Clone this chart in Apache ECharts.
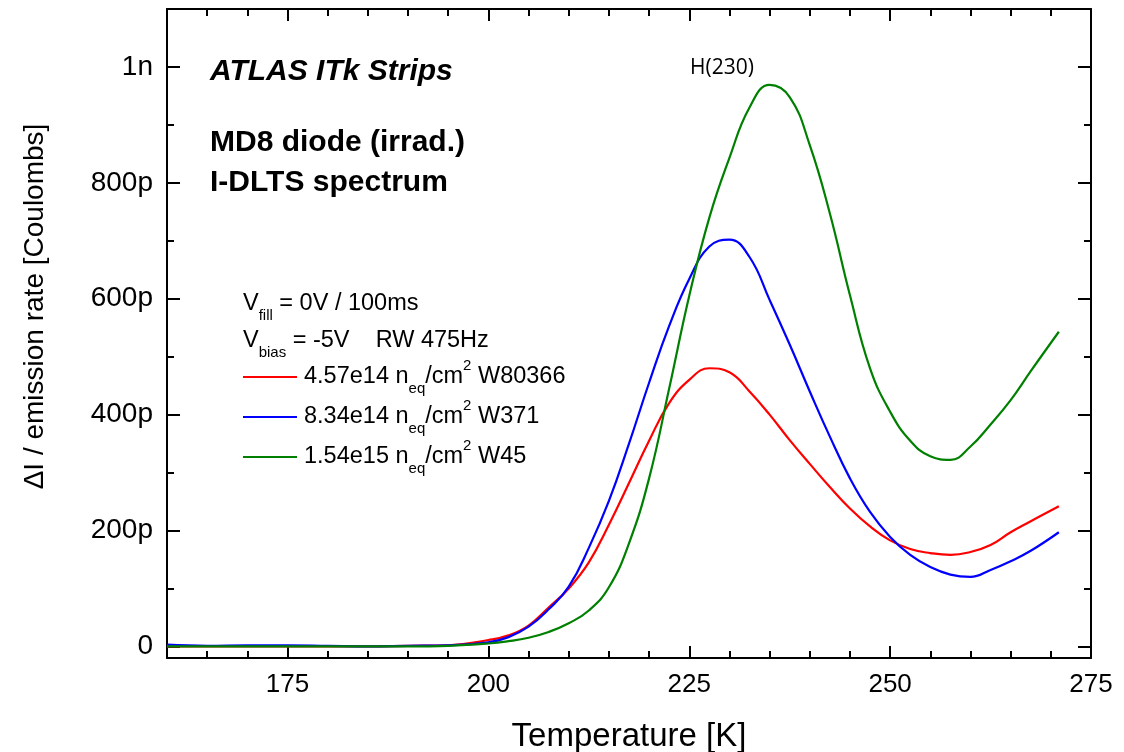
<!DOCTYPE html>
<html>
<head>
<meta charset="utf-8">
<script src="https://cdn.jsdelivr.net/npm/echarts@6/dist/echarts.min.js"></script>
<style>html,body{margin:0;padding:0;background:#fff;}#c{width:1124px;height:752px;}</style>
</head>
<body>
<div id="c"></div>
<script>
// Temperature grid [K]
const temps = [160,165,170,175,180,185,190,195,200,202.5,205,207.5,210,212.5,215,217.5,220,222.5,225,227.5,230,232.5,235,237.5,240,242.5,245,247.5,250,252.5,255,257.5,260,262.5,265,267.5,271];
// ΔI / emission rate [pC]
const redW80366 = [0,0,0,0,0,0,1,2,11,19,36,67,100,145,210,282,355,420,460,480,473,440,400,356,315,275,238,207,183,168,161,158,163,175,197,216,242];
const blueW371  = [3,1,2,2,1,0,1,2,7,16,34,64,103,170,251,350,455,553,634,690,702,672,598,521,440,362,290,232,189,158,137,124,120,132,147,165,197];
const greenW45  = [0,0,0,0,0,0,0,1,5,9,15,25,40,62,102,178,290,445,605,740,843,930,969,948,865,747,606,480,405,355,328,322,345,383,425,475,543];

const xMajor = [175,200,225,250,275];
const xMinor = [165,170,180,185,190,195,205,210,215,220,230,235,240,245,255,260,265,270];
const yMajor = [0,200,400,600,800,1000];
const yMinor = [100,300,500,700,900];

const seriesNames = [
  '{a|4.57e14 n}{sub|eq}{a|/cm}{sup|2}{a| W80366}',
  '{a|8.34e14 n}{sub|eq}{a|/cm}{sup|2}{a| W371}',
  '{a|1.54e15 n}{sub|eq}{a|/cm}{sup|2}{a| W45}'
];
const seriesKeys = ['W80366','W371','W45'];
const seriesColors = ['#ff0000','#0000ff','#008000'];
const seriesData = [redW80366, blueW371, greenW45];

const FONT = '"Liberation Sans", Arial, sans-serif';
const richStyles = {
  a:   {fontSize: 23.5, fontFamily: FONT, color: '#000', lineHeight: 38, verticalAlign: 'middle'},
  sub: {fontSize: 15, fontFamily: FONT, color: '#000', lineHeight: 15, verticalAlign: 'bottom'},
  sup: {fontSize: 15, fontFamily: FONT, color: '#000', lineHeight: 30, verticalAlign: 'top'}
};

function yFmt(v){ if (v === 1000) return '1n'; if (v === 0) return '0'; return v + 'p'; }

const XMIN = 160, XMAX = 275, YMIN = -20, YMAX = 1100;
const black = '#000';

function xAx(pos, values, len, main){
  return {
    type: 'value', min: XMIN, max: XMAX, position: pos, gridIndex: 0,
    axisLine: {show: main, onZero: false, lineStyle: {color: black, width: 2}},
    axisTick: {show: true, inside: true, length: len, customValues: values, lineStyle: {color: black, width: 2}},
    axisLabel: (main && pos === 'bottom') ? {show: true, customValues: xMajor, fontSize: 26, fontFamily: FONT, color: black, margin: 14} : {show: false},
    splitLine: {show: false},
    name: (main && pos === 'bottom') ? 'Temperature [K]' : '',
    nameLocation: 'middle', nameGap: 62,
    nameTextStyle: {fontSize: 33, fontFamily: FONT, color: black}
  };
}
function yAx(pos, values, len, main){
  return {
    type: 'value', min: YMIN, max: YMAX, position: pos, gridIndex: 0,
    axisLine: {show: main, onZero: false, lineStyle: {color: black, width: 2}},
    axisTick: {show: true, inside: true, length: len, customValues: values, lineStyle: {color: black, width: 2}},
    axisLabel: (main && pos === 'left') ? {show: true, customValues: yMajor, formatter: yFmt, fontSize: 28, fontFamily: FONT, color: black, margin: 14} : {show: false},
    splitLine: {show: false},
    name: (main && pos === 'left') ? 'ΔI / emission rate [Coulombs]' : '',
    nameLocation: 'middle', nameGap: 118,
    nameTextStyle: {fontSize: 28, fontFamily: FONT, color: black, padding: [0, 0, 0, 54]}
  };
}

const option = {
  backgroundColor: '#fff',
  animation: false,
  grid: {left: 167, right: 33, top: 9, bottom: 94, containLabel: false, outerBoundsMode: 'none'},
  xAxis: [
    xAx('bottom', xMajor, 12, true),
    xAx('bottom', xMinor, 7, false),
    xAx('top', xMajor, 12, true),
    xAx('top', xMinor, 7, false)
  ],
  yAxis: [
    yAx('left', yMajor, 13, true),
    yAx('left', yMinor, 7, false),
    yAx('right', yMajor, 13, true),
    yAx('right', yMinor, 7, false)
  ],
  legend: {
    orient: 'vertical', left: 243, top: 358, padding: 0, itemGap: 2,
    itemWidth: 54, itemHeight: 2, icon: 'rect',
    data: seriesKeys,
    formatter: function(name){ return seriesNames[seriesKeys.indexOf(name)]; },
    textStyle: {rich: richStyles, padding: [0,0,0,2]}
  },
  series: seriesKeys.map(function(k, i){
    return {
      name: k, type: 'line', xAxisIndex: 0, yAxisIndex: 0,
      data: temps.map(function(t, j){ return [t, seriesData[i][j]]; }),
      smooth: 0.45, showSymbol: false, symbol: 'none',
      color: seriesColors[i],
      lineStyle: {color: seriesColors[i], width: 2.2}
    };
  }),
  graphic: [
    {type: 'text', left: 210, top: 57, style: {text: 'ATLAS ITk Strips', font: 'italic bold 30px ' + FONT, fill: black}},
    {type: 'text', left: 210, top: 128, style: {text: 'MD8 diode (irrad.)', font: 'bold 30px ' + FONT, fill: black}},
    {type: 'text', left: 210, top: 168, style: {text: 'I-DLTS spectrum', font: 'bold 30px ' + FONT, fill: black}},
    {type: 'text', left: 690, top: 58, style: {text: 'H(230)', font: '21px "Open Sans", "Noto Sans", sans-serif', fill: black}},
    {type: 'text', left: 243, top: 292, style: {text: '{a|V}{sub|fill}{a| = 0V / 100ms}', rich: richStyles}},
    {type: 'text', left: 243, top: 329, style: {text: '{a|V}{sub|bias}{a| = -5V    RW 475Hz}', rich: richStyles}}
  ]
};

const chart = echarts.init(document.getElementById('c'), null, {renderer: 'canvas'});
chart.setOption(option);
</script>
</body>
</html>
